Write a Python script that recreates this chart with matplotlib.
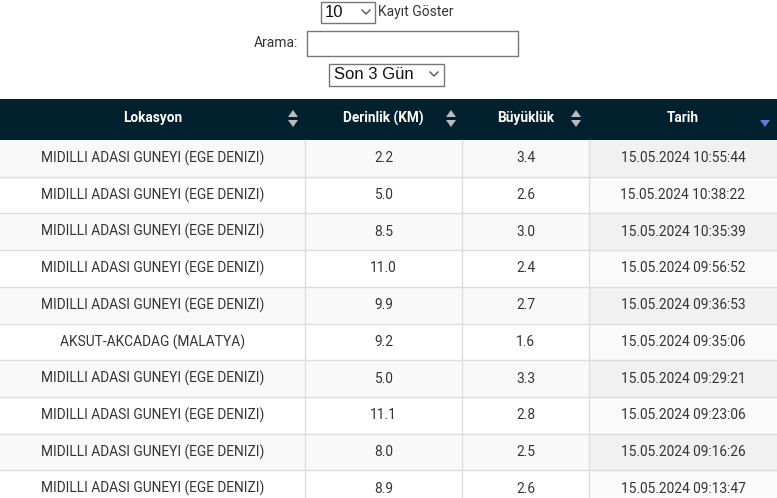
import matplotlib
matplotlib.use("Agg")
import matplotlib.pyplot as plt
from matplotlib.patches import Rectangle, Polygon

locations = ["MIDILLI ADASI GUNEYI (EGE DENIZI)"] * 5 + ["AKSUT-AKCADAG (MALATYA)"] + ["MIDILLI ADASI GUNEYI (EGE DENIZI)"] * 4
depths = [2.2, 5.0, 8.5, 11.0, 9.9, 9.2, 5.0, 11.1, 8.0, 8.9]
magnitudes = [3.4, 2.6, 3.0, 2.4, 2.7, 1.6, 3.3, 2.8, 2.5, 2.6]
dates = ["15.05.2024 10:55:44", "15.05.2024 10:38:22", "15.05.2024 10:35:39",
         "15.05.2024 09:56:52", "15.05.2024 09:36:53", "15.05.2024 09:35:06",
         "15.05.2024 09:29:21", "15.05.2024 09:23:06", "15.05.2024 09:16:26",
         "15.05.2024 09:13:47"]
headers = ["Lokasyon", "Derinlik (KM)", "Büyüklük", "Tarih"]

plt.rcParams["font.family"] = "Roboto"
W, H = 777, 498
fig = plt.figure(figsize=(W / 100, H / 100), dpi=100)
ax = fig.add_axes([0, 0, 1, 1])
ax.set_xlim(0, W); ax.set_ylim(H, 0); ax.axis("off")

def chevron(x, y):
    ax.plot([x - 4, x, x + 4], [y - 2, y + 2, y - 2], color="#555", lw=1)

# controls
ax.add_patch(Rectangle((320.5, 1.5), 54, 21, fill=False, ec="#767676", lw=1))
ax.text(325, 12, "10", fontsize=12, va="center", color="#111", family="Liberation Sans")
chevron(366, 12)
ax.text(378, 12, "Kayıt Göster", fontsize=10, va="center", color="#333")
ax.text(298, 43, "Arama:", fontsize=10, va="center", ha="right", color="#333")
ax.add_patch(Rectangle((306.5, 30.5), 211, 25, fill=False, ec="#767676", lw=1))
ax.add_patch(Rectangle((328.5, 63.5), 115, 22, fill=False, ec="#767676", lw=1))
ax.text(334, 74, "Son 3 Gün", fontsize=12, va="center", color="#111", family="Liberation Sans")
chevron(434, 74)

cols = [0, 305, 462, 589, 777]
top, hh, rh = 99, 41, 36.7
ax.add_patch(Rectangle((0, top), W, hh, color="#03202f", lw=0))
for i, h in enumerate(headers):
    cx = (cols[i] + cols[i + 1]) / 2
    ax.text(cx, top + 19, h, fontsize=9.8, weight="bold", color="white", ha="center", va="center")
for x in [293, 451, 576]:
    ax.add_patch(Polygon([[x - 5, 117], [x + 5, 117], [x, 110]], color="#b8bcc0", lw=0))
    ax.add_patch(Polygon([[x - 5, 120], [x + 5, 120], [x, 127]], color="#b8bcc0", lw=0))
ax.add_patch(Polygon([[760, 120], [770, 120], [765, 127]], color="#5a7fd6", lw=0))

y0 = top + hh
for r in range(len(depths)):
    y = y0 + r * rh
    odd = r % 2 == 0
    ax.add_patch(Rectangle((0, y), cols[3], rh, color="#f9f9f9" if odd else "white", lw=0))
    ax.add_patch(Rectangle((cols[3], y), W - cols[3], rh, color="#f1f1f1" if odd else "#fafafa", lw=0))
    vals = [locations[r], f"{depths[r]:.1f}", f"{magnitudes[r]:.1f}", dates[r]]
    for i, v in enumerate(vals):
        cx = (cols[i] + cols[i + 1]) / 2
        ax.text(cx, y + rh / 2, v, fontsize=9.9, color="#333", ha="center", va="center")
    ax.plot([0, W], [y + rh, y + rh], color="#dddddd", lw=1)
for x in cols[1:4]:
    ax.plot([x, x], [y0, H], color="#dddddd", lw=1)

fig.savefig("out.png", dpi=100)
